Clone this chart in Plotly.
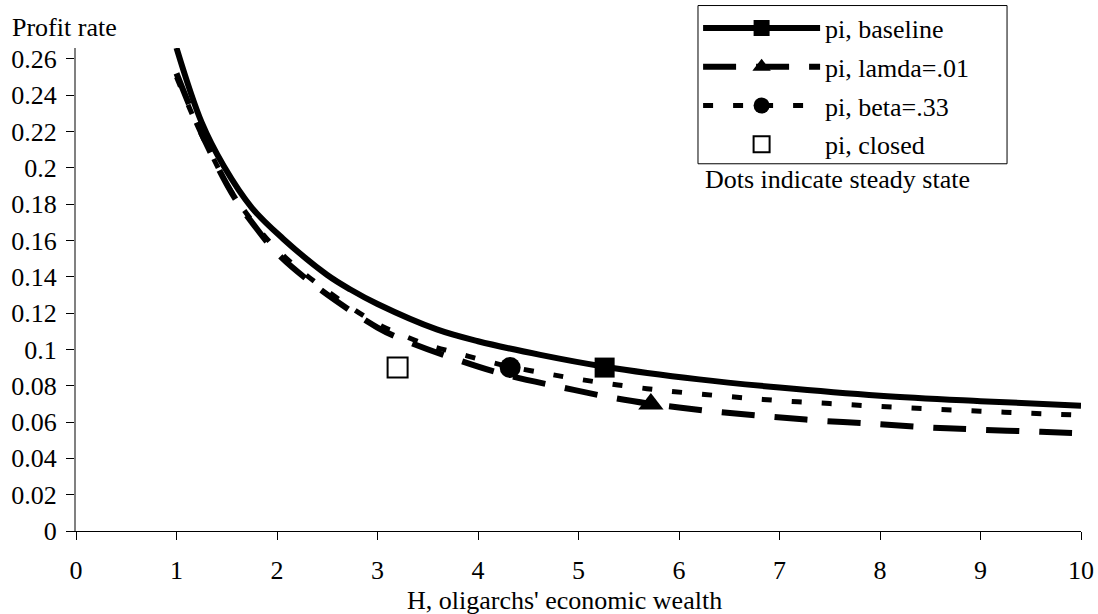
import plotly.graph_objects as go

# Curves
H_base = [1.0, 1.25, 1.47, 1.75, 2.06, 2.5, 2.73, 3.0, 3.59, 4.0, 4.62, 5.26, 6.2, 7.0, 8.0, 9.0, 10.0]
pi_base = [0.266, 0.225, 0.201, 0.178, 0.161, 0.141, 0.133, 0.125, 0.111, 0.1045, 0.097, 0.0905, 0.0835, 0.079, 0.0745, 0.0715, 0.069]

H_lam = [1.0, 1.2, 1.36, 1.5, 1.63, 1.75, 2.0, 2.43, 3.0, 3.2, 3.7, 4.25, 4.8, 5.33, 5.72, 6.0, 6.4, 6.9, 7.45, 8.0, 8.5, 9.0, 9.6, 10.0]
pi_lam = [0.252, 0.225, 0.206, 0.191, 0.179, 0.170, 0.153, 0.133, 0.112, 0.1066, 0.0961, 0.0864, 0.0795, 0.0735, 0.070, 0.068, 0.0655, 0.063, 0.0606, 0.0588, 0.057, 0.0558, 0.0546, 0.0538]

H_beta = [1.0, 1.2, 1.36, 1.5, 1.63, 1.75, 2.0, 2.43, 3.0, 3.2, 3.49, 3.79, 4.09, 4.32, 4.69, 4.99, 5.29, 5.59, 5.91, 6.5, 7.0, 7.5, 8.0, 8.5, 9.0, 9.5, 10.0]
pi_beta = [0.250, 0.224, 0.206, 0.191, 0.180, 0.171, 0.155, 0.135, 0.114, 0.109, 0.1027, 0.098, 0.0935, 0.0905, 0.0866, 0.0837, 0.0812, 0.079, 0.077, 0.074, 0.0718, 0.0702, 0.0686, 0.0672, 0.066, 0.0648, 0.0638]

# Steady states (dots)
series_names = ["pi, baseline", "pi, lamda=.01", "pi, beta=.33", "pi, closed"]
ss_H = [5.26, 5.72, 4.32, 3.2]
ss_pi = [0.09, 0.07, 0.09, 0.09]

x_ticks = [0, 1, 2, 3, 4, 5, 6, 7, 8, 9, 10]
y_ticks = [0, 0.02, 0.04, 0.06, 0.08, 0.1, 0.12, 0.14, 0.16, 0.18, 0.2, 0.22, 0.24, 0.26]
y_tick_text = ["0", "0.02", "0.04", "0.06", "0.08", "0.1", "0.12", "0.14", "0.16", "0.18", "0.2", "0.22", "0.24", "0.26"]

FONT = "Liberation Serif, Times New Roman, serif"
FS = 26

styles = [
    dict(line=dict(color="black", width=6, dash="solid"), marker=dict(symbol="square", size=20, color="black")),
    dict(line=dict(color="black", width=6, dash="33px,20px"), marker=dict(symbol="triangle-up", size=22, color="black")),
    dict(line=dict(color="black", width=5, dash="10px,20px"), marker=dict(symbol="circle", size=21, color="black")),
    dict(line=None, marker=dict(symbol="square-open", size=20, color="black", line=dict(width=2))),
]

curves = [(H_base, pi_base), (H_lam, pi_lam), (H_beta, pi_beta)]

fig = go.Figure()
for i, (hx, py) in enumerate(curves):
    fig.add_trace(go.Scatter(x=hx, y=py, mode="lines", line=styles[i]["line"],
                             line_shape="spline", showlegend=False, hoverinfo="skip"))
for i in range(4):
    fig.add_trace(go.Scatter(x=[ss_H[i]], y=[ss_pi[i]], mode="markers",
                             marker=styles[i]["marker"], showlegend=False, cliponaxis=False))
# legend entries
for i in range(4):
    if styles[i]["line"] is not None:
        fig.add_trace(go.Scatter(x=[None], y=[None], mode="lines+markers", name=series_names[i],
                                 legendgroup="g%d" % i,
                                 line=styles[i]["line"], marker=styles[i]["marker"]))
    else:
        fig.add_trace(go.Scatter(x=[None], y=[None], mode="markers", name=series_names[i],
                                 legendgroup="g%d" % i, marker=styles[i]["marker"]))

fig.update_layout(
    width=1098, height=614,
    margin=dict(l=76, r=17, t=48, b=83, autoexpand=False),
    paper_bgcolor="white", plot_bgcolor="white",
    font=dict(family=FONT, size=FS, color="black"),
    legend=dict(x=0.619, y=1.090, xanchor="left", yanchor="top",
                bgcolor="rgba(0,0,0,0)", borderwidth=0,
                itemwidth=117, font=dict(family=FONT, size=FS), tracegroupgap=2),
    shapes=[dict(type="rect", xref="paper", yref="paper", x0=0.6189, x1=0.9264, y0=0.7603, y1=1.0879,
                 line=dict(color="black", width=1), layer="below")],
    annotations=[
        dict(text="Profit rate", x=-0.0657, y=1.042, xref="paper", yref="paper",
             xanchor="left", yanchor="middle", showarrow=False, font=dict(family=FONT, size=FS)),
        dict(text="Dots indicate steady state", x=0.624, y=0.727, xref="paper", yref="paper",
             xanchor="left", yanchor="middle", showarrow=False, font=dict(family=FONT, size=FS)),
        dict(text="H, oligarchs' economic wealth", x=0.4856, y=-0.1437, xref="paper", yref="paper",
             xanchor="center", yanchor="middle", showarrow=False, font=dict(family=FONT, size=FS)),
    ],
)
fig.update_xaxes(range=[0, 10], tickvals=x_ticks, showgrid=False, zeroline=False,
                 showline=True, linecolor="black", linewidth=1,
                 ticks="outside", ticklen=8, tickcolor="black", ticklabelstandoff=8)
fig.update_yaxes(range=[0, 0.266], tickvals=y_ticks, ticktext=y_tick_text, showgrid=False, zeroline=False,
                 showline=True, linecolor="#808080", linewidth=2,
                 ticks="outside", ticklen=8, tickcolor="black", ticklabelstandoff=4)

fig.write_html("out.html", config={"displayModeBar": False},
               post_script="document.body.style.margin='0';document.body.style.overflow='hidden';")
